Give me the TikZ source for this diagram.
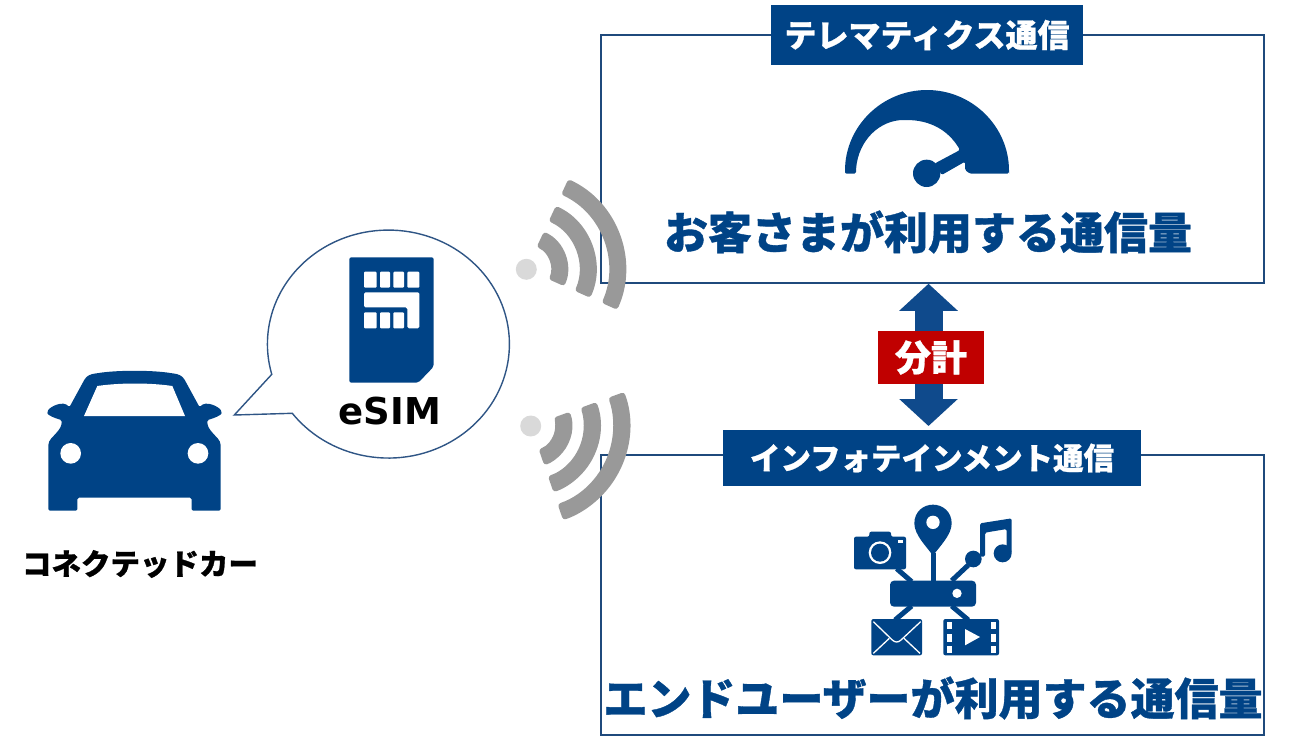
\documentclass[tikz,border=0pt]{standalone}
\usepackage{fontspec}
\setmainfont{Noto Sans CJK JP}[BoldFeatures={FakeBold=0.8}]
\newfontfamily\latinfont{DejaVu Sans}
\usetikzlibrary{arrows.meta}
\definecolor{navy}{HTML}{004386}
\definecolor{frame}{HTML}{1F4A7C}
\definecolor{bubble}{HTML}{2F5585}
\definecolor{flowblue}{HTML}{0F4A8C}
\definecolor{wavegray}{HTML}{999999}
\definecolor{dotgray}{HTML}{D9D9D9}
\definecolor{ratered}{HTML}{C00000}
\begin{document}
\begin{tikzpicture}[x=1pt,y=1pt,yscale=-1,
						panel/.style={shape=rectangle,draw=frame,line width=1.5pt,inner sep=0pt},
						titlebar/.style={shape=rectangle,fill=navy,text=white,inner sep=0pt,font=\bfseries},
						bigtext/.style={text=navy,inner sep=0pt,font=\fontsize{44}{50}\selectfont\bfseries},
						blacktext/.style={text=black,inner sep=0pt,font=\bfseries},
						wave/.style={fill=wavegray,rounded corners=3pt},
						link/.style={draw=navy,line width=5pt},
						flow/.style={draw=flowblue,line width=28pt,{Triangle[length=27pt,width=57pt]}-{Triangle[length=27pt,width=57pt]}}]
		\useasboundingbox (0,0) rectangle (1289,755);

		\node[panel,minimum width=663,minimum height=248] (tele) at (932.5,159) {};
		\node[panel,minimum width=663,minimum height=280] (info) at (932.5,595) {};
		\node[titlebar,minimum width=312,minimum height=60,font=\fontsize{32}{36}\selectfont\bfseries] (telebar) at (927,35) {テレマティクス通信};
		\node[titlebar,minimum width=418,minimum height=56,font=\fontsize{30.5}{36}\selectfont\bfseries] (infobar) at (932,458) {インフォテインメント通信};
		\node[bigtext] (telecap) at (928,232) {お客さまが利用する通信量};
		\node[bigtext] (infocap) at (933,698) {エンドユーザーが利用する通信量};

		\coordinate (axis) at (928.5,426);
		\draw[flow] (tele.south -| axis) -- (axis);
		\node[shape=rectangle,fill=ratered,text=white,inner sep=0pt,minimum width=106,minimum height=53,font=\fontsize{36}{40}\selectfont\bfseries] (rate) at (931,357.5) {分計};

		\begin{scope}[shift={(526.3,269.3)}]
			\foreach \rad in {33,61.5,91}
				\fill[wave] (-65:\rad+8.5) arc[start angle=-65,end angle=24,radius=\rad+8.5] -- (24:\rad-8.5) arc[start angle=24,end angle=-65,radius=\rad-8.5] -- cycle;
			\fill[dotgray] (0,0) circle (10.5);
		\end{scope}
		\begin{scope}[shift={(530.7,426)}]
			\foreach \rad in {33,61.5,91}
				\fill[wave] (-20:\rad+8.5) arc[start angle=-20,end angle=71,radius=\rad+8.5] -- (71:\rad-8.5) arc[start angle=71,end angle=-20,radius=\rad-8.5] -- cycle;
			\fill[dotgray] (0,0) circle (10.5);
		\end{scope}

		\draw[draw=bubble,line width=1.4pt,fill=white] (234.3,415) -- (292.3,413.3) arc[start angle=142.6,end angle=-195.4,x radius=121,y radius=114] -- cycle;
		\node[blacktext,font=\fontsize{37}{44}\selectfont\latinfont\bfseries] (esim) at (390,411) {eSIM};

		\begin{scope}[shift={(230,170)},scale=1/3]
			\fill[navy,rounded corners=2pt] (358,262) -- (611,262) -- (611,590) -- (565,638) -- (358,638) -- cycle;
			\fill[white,rounded corners=1.5pt] (402,367) -- (568,367) -- (568,475) -- (532,475) -- (532,412) -- (402,412) -- cycle;
			\foreach \xa/\xb in {402/440,450/480,490/522,532/568}
				\fill[white,rounded corners=1pt] (\xa,305) rectangle (\xb,353);
			\foreach \xa/\xb in {402/440,450/480,490/522}
				\fill[white,rounded corners=1pt] (\xa,427) rectangle (\xb,475);
		\end{scope}

		\begin{scope}[shift={(20,350)},scale=1/3]
			\fill[navy,rounded corners=1.5pt] (172,443) -- (172,482) -- (85,482) -- (85,290) .. controls (85,270) and (100,260) .. (112,245)
				.. controls (125,230) and (125,218) .. (125,210) .. controls (105,205) and (82,195) .. (82,185) .. controls (90,170) and (130,150) .. (148,172)
				-- (190,95) .. controls (200,75) and (215,72) .. (230,70) .. controls (290,60) and (397,60) .. (457,70) .. controls (472,72) and (487,75) .. (497,95)
				-- (539,172) .. controls (557,150) and (597,170) .. (605,185) .. controls (605,195) and (582,205) .. (562,210)
				.. controls (562,218) and (562,230) .. (575,245) .. controls (587,260) and (602,270) .. (602,290)
				-- (602,482) -- (515,482) -- (515,443) -- cycle;
			\fill[white] (232,108) .. controls (300,98) and (390,98) .. (457,108) -- (495,198) -- (192,198) -- cycle;
			\fill[white] (152,310) circle (31);
			\fill[white] (534,310) circle (31);
		\end{scope}
		\node[blacktext,font=\fontsize{29.5}{34}\selectfont\bfseries] (car) at (140,564) {コネクテッドカー};

		\begin{scope}[shift={(830,80)},scale=1/3]
			\fill[navy,rounded corners=1.5pt] (45,281) -- (45,276) arc[start angle=180,end angle=360,radius=246] -- (537,281) -- (420,281) -- (405,270) -- (405,245) -- (335,285) -- (315,250) -- (390,210)
				.. controls (355,150) and (300,120) .. (225,120) .. controls (150,120) and (85,180) .. (78,270) -- (78,281) -- cycle;
			\fill[navy] (290,280) circle (41);
		\end{scope}

		\begin{scope}[shift={(830,490)},scale=1/3]
			\draw[link] (309,190) -- (309,275);
			\draw[link] (200,236) -- (245,275);
			\draw[link] (415,225) -- (365,272);
			\draw[link] (245,348) -- (195,390);
			\draw[link] (365,348) -- (415,390);
			\fill[navy,rounded corners=4pt] (180,272) rectangle (438,350);
			\fill[white] (381,310) circle (14);
			\fill[navy] (309,197) .. controls (290,170) and (253,135) .. (253,100) .. controls (253,65) and (280,44) .. (309,44) .. controls (338,44) and (365,65) .. (365,100) .. controls (365,135) and (328,170) .. (309,197) -- cycle;
			\fill[white] (309,97) circle (20);
			\fill[navy,rounded corners=2pt] (72,140) -- (118,140) -- (118,125) -- (183,125) -- (183,140) -- (228,140) -- (228,238) -- (72,238) -- cycle;
			\fill[white] (150,188) circle (34);
			\fill[navy] (150,188) circle (27);
			\fill[white] (203,150) rectangle (218,160);
			\fill[navy] (430,207) circle (25);
			\fill[navy] (518,190) circle (27);
			\fill[navy,rounded corners=1.5pt] (450,200) -- (450,100) -- (545,85) -- (545,190) -- (530,190) -- (530,117) -- (465,128) -- (465,200) -- cycle;
			\fill[navy,rounded corners=2pt] (124,387) rectangle (276,496);
			\draw[white,line width=1.3pt] (130,395) -- (187,450) .. controls (195,458) and (205,458) .. (213,450) -- (272,395);
			\draw[white,line width=1.3pt] (130,490) -- (178,445);
			\draw[white,line width=1.3pt] (270,490) -- (222,445);
			\fill[navy,rounded corners=2pt] (340,387) rectangle (507,496);
			\foreach \ya/\yb in {397/418,432/455,467/488} {
				\fill[white] (350,\ya) rectangle (366,\yb);
				\fill[white] (482,\ya) rectangle (497,\yb);
			}
			\fill[white] (405,417) -- (450,441) -- (405,466) -- cycle;
		\end{scope}
	\end{tikzpicture}
\end{document}
